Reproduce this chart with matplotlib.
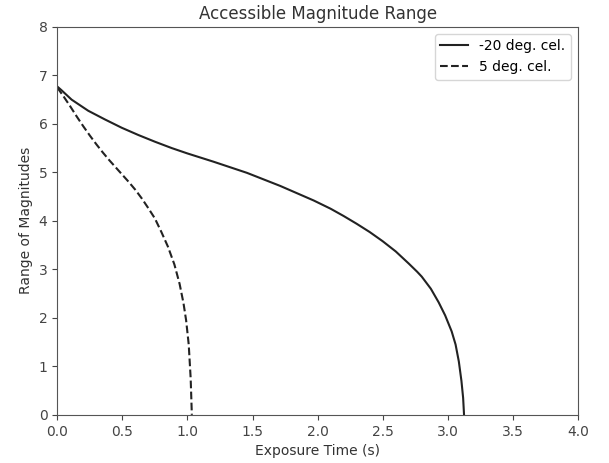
import numpy as np
import matplotlib
matplotlib.use('Agg')
import matplotlib.pyplot as plt

# -20 deg. cel. curve
t_cold = [0.0, 0.03, 0.11, 0.238, 0.367, 0.495, 0.623, 0.752, 0.88, 1.0,
          1.2, 1.457, 1.713, 1.97, 2.1, 2.2, 2.3, 2.4, 2.5, 2.6,
          2.7, 2.765, 2.8, 2.87, 2.93, 2.98, 3.03, 3.06, 3.085, 3.105,
          3.118, 3.125]
m_cold = [6.77, 6.70, 6.50, 6.27, 6.09, 5.92, 5.77, 5.63, 5.50, 5.39,
          5.22, 4.99, 4.72, 4.42, 4.25, 4.10, 3.94, 3.77, 3.58, 3.37,
          3.12, 2.95, 2.85, 2.60, 2.32, 2.05, 1.72, 1.45, 1.10, 0.70,
          0.35, 0.0]

# 5 deg. cel. curve
t_warm = [0.0, 0.05, 0.1, 0.15, 0.2, 0.25, 0.3, 0.35, 0.4, 0.45,
          0.5, 0.55, 0.6, 0.65, 0.7, 0.75, 0.8, 0.85, 0.9, 0.94,
          0.97, 0.99, 1.01, 1.025, 1.034]
m_warm = [6.75, 6.56, 6.36, 6.15, 5.95, 5.76, 5.58, 5.41, 5.25, 5.10,
          4.95, 4.80, 4.64, 4.46, 4.26, 4.05, 3.77, 3.47, 3.10, 2.70,
          2.30, 1.95, 1.45, 0.75, 0.0]

fig = plt.figure(figsize=(6.09, 4.63), dpi=100)
ax = fig.add_axes([0.094, 0.104, 0.855, 0.838])

ax.plot(t_cold, m_cold, color='#222222', linestyle='-', linewidth=1.5, label='-20 deg. cel.')
ax.plot(t_warm, m_warm, color='#222222', linestyle='--', linewidth=1.5, label='5 deg. cel.')

ax.set_xlim(0, 4)
ax.set_ylim(0, 8)
ax.set_xticks(np.arange(0, 4.01, 0.5))
ax.set_yticks(range(0, 9))
ax.set_xlabel('Exposure Time (s)', color='#333333')
ax.set_ylabel('Range of Magnitudes', color='#333333')
ax.set_title('Accessible Magnitude Range', color='#333333')
ax.tick_params(colors='#444444')
for s in ax.spines.values():
    s.set_color('#555555')
ax.legend(loc='upper right')

fig.savefig('out.png', dpi=100)
